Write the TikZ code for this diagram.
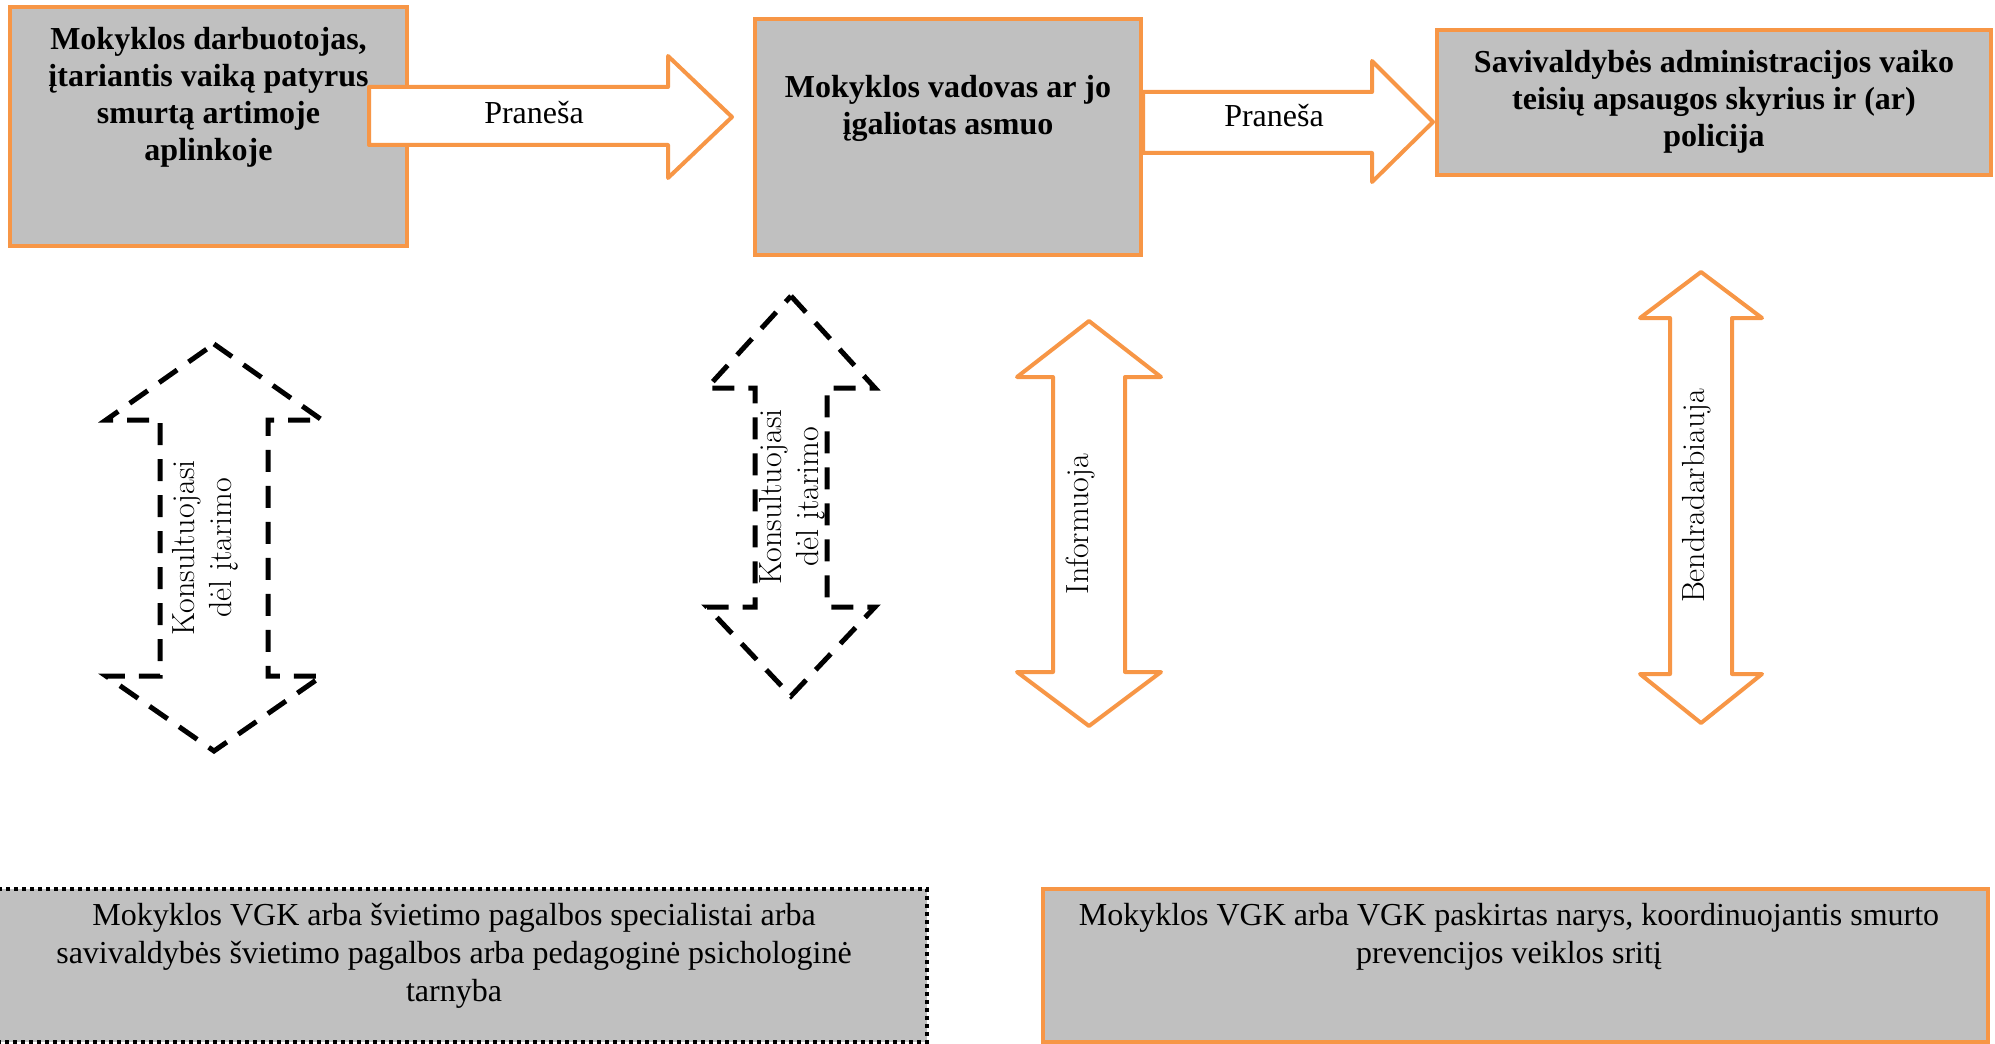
\documentclass[tikz,border=0pt]{standalone}
\usepackage{fontspec}
\newfontfamily\tnr{Liberation Serif}
\usetikzlibrary{positioning}
\definecolor{orng}{HTML}{F79646}
\definecolor{pilka}{HTML}{C0C0C0}
% dviguba rodykle: stilius, cx, virsus, pagrindas1, pagrindas2, apacia, galvos puse, koto puse
\newcommand{\dvirod}[8]{\draw[#1] (#2,#3) -- (#2+#7,#4) -- (#2+#8,#4) -- (#2+#8,#5) -- (#2+#7,#5) -- (#2,#6)
  -- (#2-#7,#5) -- (#2-#8,#5) -- (#2-#8,#4) -- (#2-#7,#4) -- cycle;}
\begin{document}
\begin{tikzpicture}[x=0.5pt,y=-0.5pt]
	\tikzset{dezute/.style={draw=orng, fill=pilka, line width=2pt, anchor=north west, inner sep=0pt},
		tekstas/.style={font=\tnr\bfseries\fontsize{16}{18.5}\selectfont, align=center, inner sep=0pt},
		paprastas/.style={font=\tnr\fontsize{16}{19}\selectfont, align=center, inner sep=0pt},
		rod/.style={draw=orng, fill=white, line width=2pt, line join=round},
		brk/.style={draw=black, line width=2.5pt, dash pattern=on 11pt off 7pt},
		pas/.style={font=\fontsize{16}{18.5}\selectfont, rotate=90, align=center, inner sep=0pt}};
	\useasboundingbox (0,0) rectangle (1995,1043);

	% virsutines dezutes
	\node[dezute, minimum width=198.5pt, minimum height=119.5pt] (darb) at (8,5) {};
	\node[tekstas, below=11pt of darb.north] (darbt) {Mokyklos darbuotojas,\\ įtariantis vaiką patyrus\\ smurtą artimoje\\ aplinkoje};
	\node[dezute, minimum width=193pt, minimum height=118pt] (vad) at (753,17) {};
	\node[tekstas, below=29pt of vad.north] (vadt) {Mokyklos vadovas ar jo\\ įgaliotas asmuo};
	\node[dezute, minimum width=277pt, minimum height=72.5pt] (sav) at (1435,28) {};
	\node[tekstas, below=11pt of sav.north] (savt) {Savivaldybės administracijos vaiko\\ teisių apsaugos skyrius ir (ar)\\ policija};

	% pranesa
	\draw[rod] (369,87) -- (668,87) -- (668,56) -- (732,117) -- (668,178) -- (668,145) -- (369,145) -- cycle;
	\node[paprastas] (pr1) at (534,113) {Praneša};
	\draw[rod] (1143,92) -- (1372,92) -- (1372,61) -- (1433,122) -- (1372,182) -- (1372,153) -- (1143,153) -- cycle;
	\node[paprastas] (pr2) at (1274,116) {Praneša};

	% dvigubos rodykles
	\dvirod{brk}{214}{344}{420}{676}{751}{108}{54}
	\node[pas] (kons1) at (205,548) {Konsultuojasi\\ dėl įtarimo};
	\dvirod{brk}{791}{296}{388}{607}{696}{84}{36}
	\node[pas] (kons2) at (792,497) {Konsultuojasi\\ dėl įtarimo};
	\dvirod{rod}{1089}{321}{377}{672}{726}{72}{36}
	\node[pas] (inf) at (1080,524) {Informuoja};
	\dvirod{rod}{1701}{272}{318}{674}{723}{61}{31}
	\node[pas] (bendr) at (1697,496) {Bendradarbiauja};

	% apatines dezutes
	\node[dezute, draw=black, line width=2pt, dash pattern=on 2pt off 2pt, minimum width=465pt, minimum height=76.5pt] (vgk) at (-5,887) {};
	\node[paprastas, anchor=north] (vgkt) at (454,903) {Mokyklos VGK arba švietimo pagalbos specialistai arba\\ savivaldybės švietimo pagalbos arba pedagoginė psichologinė\\ tarnyba};
	\node[dezute, minimum width=472.5pt, minimum height=76.5pt] (nar) at (1041,887) {};
	\node[paprastas, anchor=north] (nart) at (1509,903) {Mokyklos VGK arba VGK paskirtas narys, koordinuojantis smurto\\ prevencijos veiklos sritį};
\end{tikzpicture}
\end{document}
